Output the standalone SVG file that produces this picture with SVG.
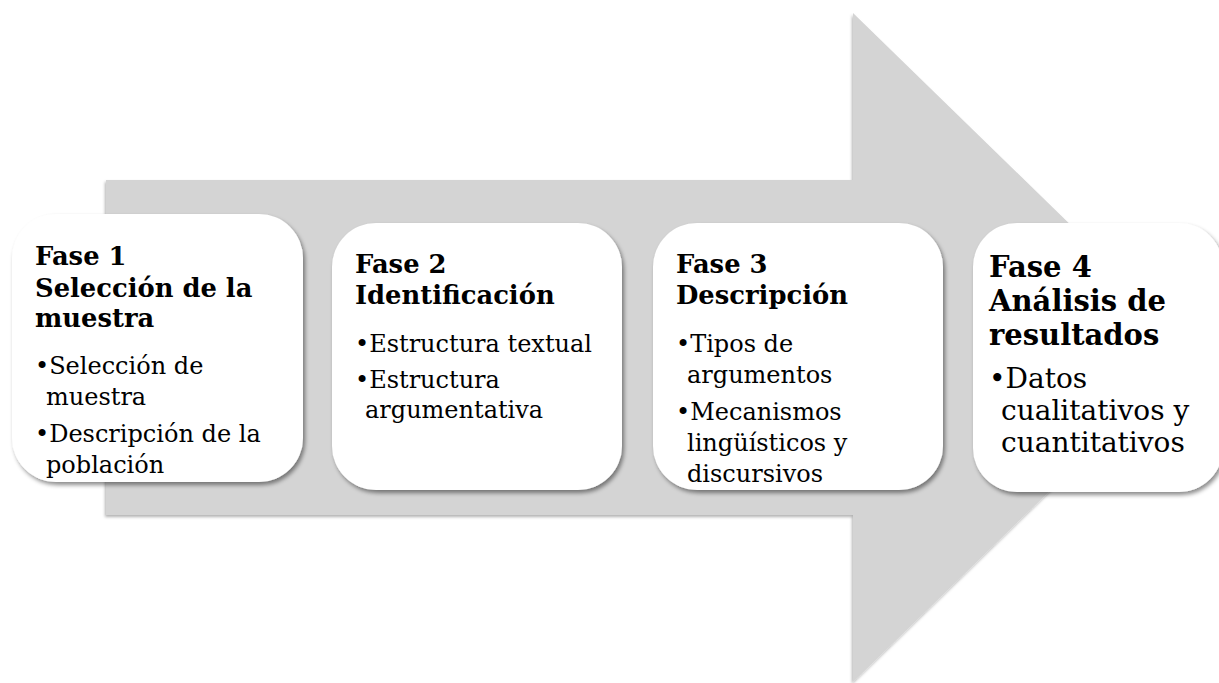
<svg xmlns="http://www.w3.org/2000/svg" width="1219" height="683" viewBox="0 0 1219 683">
<defs>
<filter id="sh" x="-10%" y="-10%" width="120%" height="125%">
<feDropShadow dx="2" dy="3" stdDeviation="2" flood-color="#000" flood-opacity="0.45"/>
</filter>
<filter id="ash" x="-5%" y="-5%" width="110%" height="110%">
<feDropShadow dx="-1" dy="2" stdDeviation="1.5" flood-color="#000" flood-opacity="0.3"/>
</filter>
<style>
.box{fill:#ffffff;filter:url(#sh);}
.t{font-family:"DejaVu Serif","Liberation Serif",serif;font-weight:bold;font-size:25.8px;fill:#000;}
.b{font-family:"DejaVu Serif","Liberation Serif",serif;font-size:24px;fill:#000;}
.t4{font-family:"DejaVu Serif","Liberation Serif",serif;font-weight:bold;font-size:29px;fill:#000;}
.b4{font-family:"DejaVu Serif","Liberation Serif",serif;font-size:28px;fill:#000;}
</style>
</defs>
<rect width="1219" height="683" fill="#ffffff"/>
<g id="arrow">
<polygon points="106,180 853,180 853,13 1197,348 853,682 853,515 106,515" fill="#d4d4d4" filter="url(#ash)"/>
</g>
<g id="connectors"></g>
<g id="fase1">
<rect class="box" x="12" y="214" width="291" height="268" rx="44" ry="44"/>
<text class="t" x="35" y="265">Fase 1</text>
<text class="t" x="35" y="297">Selección de la</text>
<text class="t" x="35" y="327">muestra</text>
<text class="b" x="35" y="374">•Selección de</text>
<text class="b" x="46" y="405">muestra</text>
<text class="b" x="35" y="442">•Descripción de la</text>
<text class="b" x="46" y="473">población</text>
</g>
<g id="fase2">
<rect class="box" x="332" y="223" width="290" height="267" rx="44" ry="44"/>
<text class="t" x="355" y="273">Fase 2</text>
<text class="t" x="355" y="304">Identificación</text>
<text class="b" x="355" y="352">•Estructura textual</text>
<text class="b" x="355" y="388">•Estructura</text>
<text class="b" x="365" y="418">argumentativa</text>
</g>
<g id="fase3">
<rect class="box" x="653" y="223" width="290" height="267" rx="44" ry="44"/>
<text class="t" x="676" y="273">Fase 3</text>
<text class="t" x="676" y="304">Descripción</text>
<text class="b" x="676" y="352">•Tipos de</text>
<text class="b" x="687" y="383">argumentos</text>
<text class="b" x="676" y="420">•Mecanismos</text>
<text class="b" x="687" y="451">lingüísticos y</text>
<text class="b" x="687" y="482">discursivos</text>
</g>
<g id="fase4">
<rect class="box" x="973" y="223" width="250" height="269" rx="44" ry="44"/>
<text class="t4" x="989" y="277">Fase 4</text>
<text class="t4" x="989" y="311">Análisis de</text>
<text class="t4" x="989" y="345">resultados</text>
<text class="b4" x="989" y="388">•Datos</text>
<text class="b4" x="1001" y="420">cualitativos y</text>
<text class="b4" x="1001" y="452">cuantitativos</text>
</g>
</svg>
